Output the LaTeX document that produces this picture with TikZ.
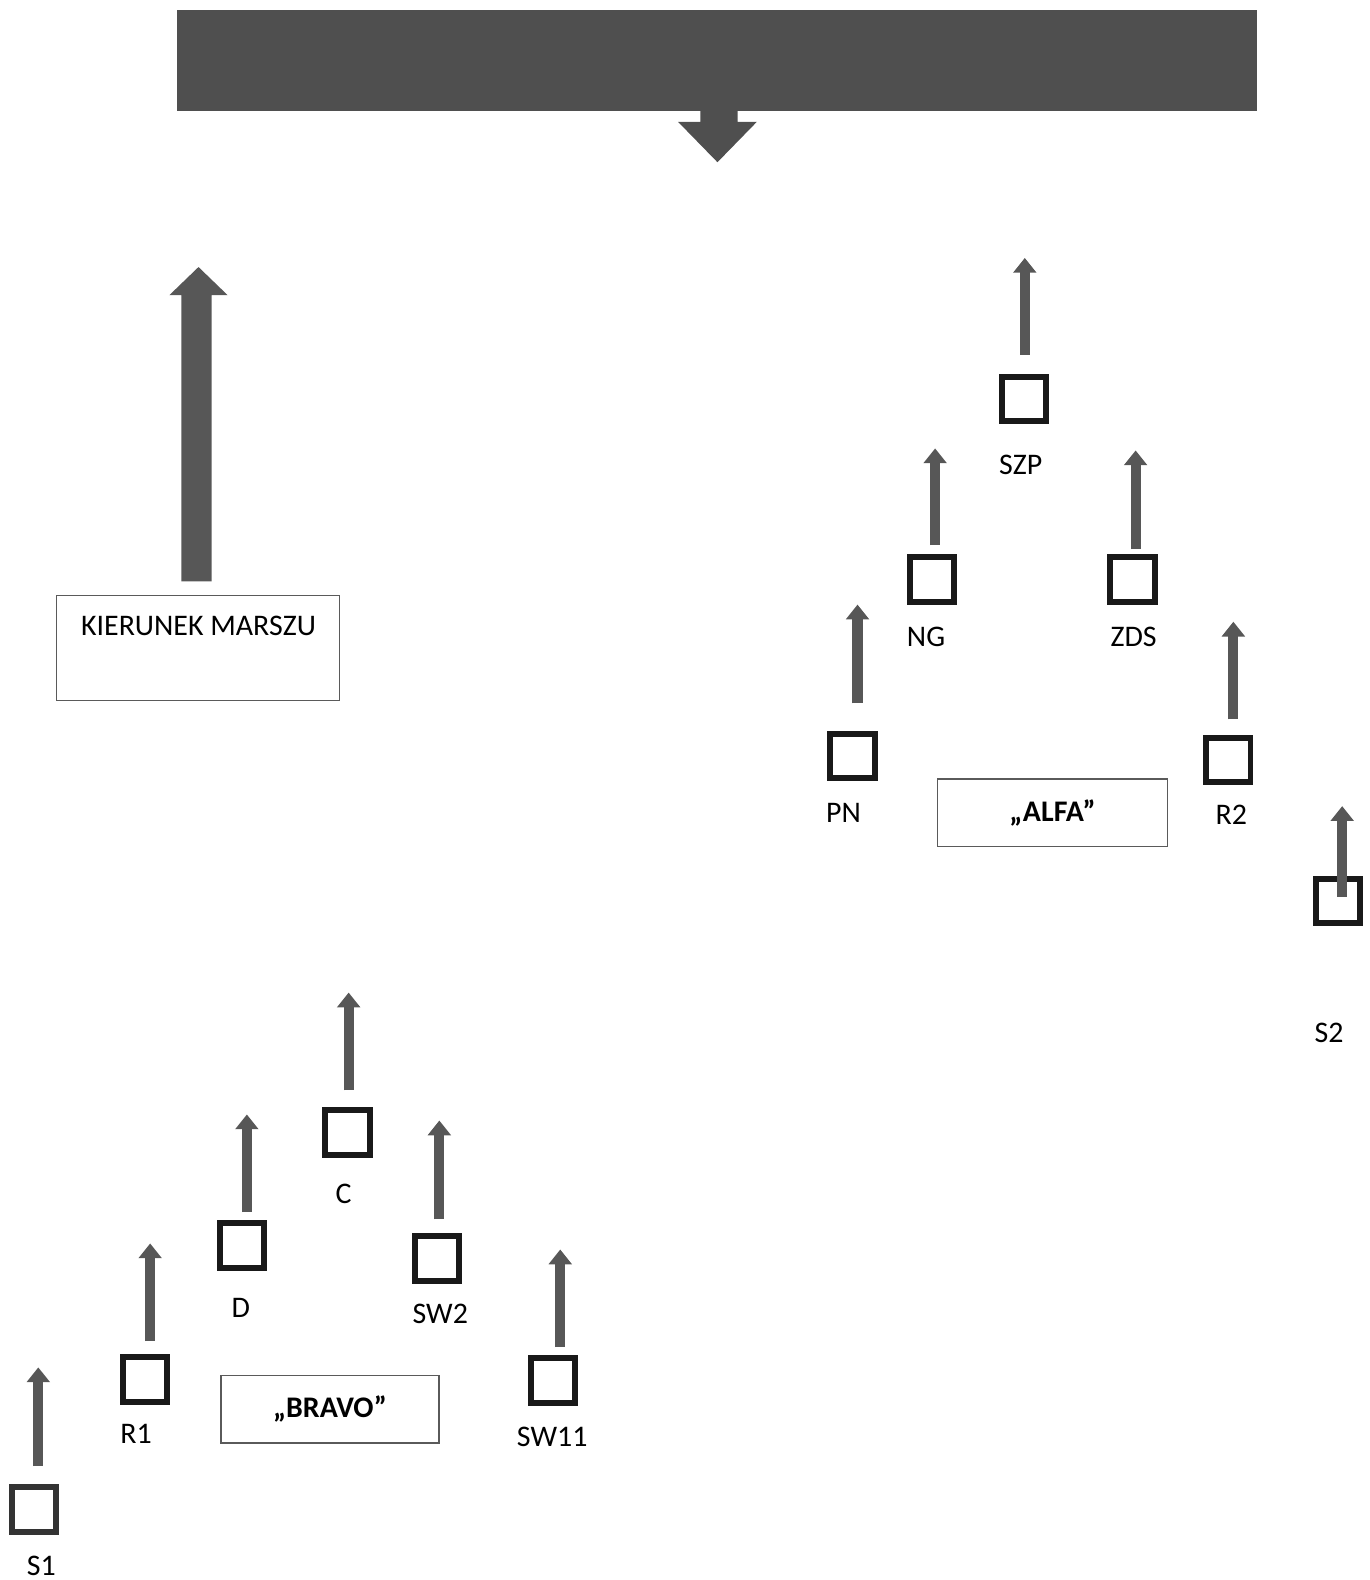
\documentclass[tikz,border=0pt]{standalone}
\usepackage{fontspec}
\setmainfont{Carlito}
\usetikzlibrary{arrows.meta}

\definecolor{bargray}{HTML}{4F4F4F}
\definecolor{arrgray}{HTML}{575757}
\definecolor{boxgray}{HTML}{5A5A5A}

\tikzset{
  post/.style={draw=black!90, line width=1.7pt, minimum size=12.6pt, inner sep=0pt},
  move/.style={draw=arrgray, line width=2.9pt, -{Triangle[width=6.4pt,length=4.2pt]}},
  tag/.style={font=\fontsize{8.5}{10}\selectfont, inner sep=0pt},
  unitbox/.style={draw=boxgray, line width=0.45pt, inner sep=0pt, font=\fontsize{8.5}{10}\selectfont\bfseries}
}

\begin{document}
\begin{tikzpicture}[x=0.010074cm, y=-0.010074cm]
\useasboundingbox (0,0) rectangle (1359,1568);

% front line
\fill[bargray] (176,10) rectangle (1247,110);
\fill[bargray] (695,110) -- (732,110) -- (732,121) -- (751,121) -- (712,161)
  -- (673,121) -- (695,121) -- cycle;

% direction of march
\fill[arrgray] (180,577) -- (210,577) -- (210,293) -- (226,293) -- (197,265)
  -- (168,293) -- (180,293) -- cycle;
\draw[boxgray, line width=0.45pt] (56,591) rectangle (337,695);
\node[tag] (kier) at (197,621) {KIERUNEK MARSZU};

% groups
\node[unitbox, minimum width=229*0.2856pt, minimum height=67*0.2856pt] (alfa) at (1044.5,806.5) {„ALFA”};
\node[unitbox, minimum width=217*0.2856pt, minimum height=67*0.2856pt] (bravo) at (327.5,1398.5) {„BRAVO”};

% posts: name / square x,y / arrow x, tip, bottom / label x,y
\foreach \nm/\sx/\sy/\ax/\at/\ab/\lx/\ly in {
    SZP/1016/396/1017/256/352/1013/461,
    NG/925/575/928/445/541/919/632,
    ZDS/1124/575/1127/447/545/1125/632,
    PN/846/750/851/600/698/837/807,
    R2/1219/754/1224/617/714/1222/809,
    C/345/1124/346/985/1082/341/1185,
    D/240/1236/245/1106/1203/239/1298,
    SW2/434/1249/436/1112/1210/437/1304,
    R1/144/1369/149/1234/1331/135/1423,
    SW11/549/1370/556/1240/1337/548/1426}{
  \node[post] (\nm) at (\sx,\sy) {};
  \node[tag] (\nm-l) at (\lx,\ly) {\nm};
  \coordinate (\nm-a) at (\ax,\ab);
  \draw[move] (\nm-a) -- (\ax,\at);
}

% outer posts
\node[post, draw=black!80] (S1) at (34,1498) {};
\node[tag] (S1-l) at (41,1554) {S1};
\coordinate (S1-a) at (38,1455);
\draw[move] (S1-a) -- (38,1357);

\node[post] (S2) at (1328,894) {};
\node[tag] (S2-l) at (1319,1025) {S2};
\coordinate (S2-a) at (1332,890);
\draw[move] (S2-a) -- (1332,800);

\end{tikzpicture}
\end{document}
